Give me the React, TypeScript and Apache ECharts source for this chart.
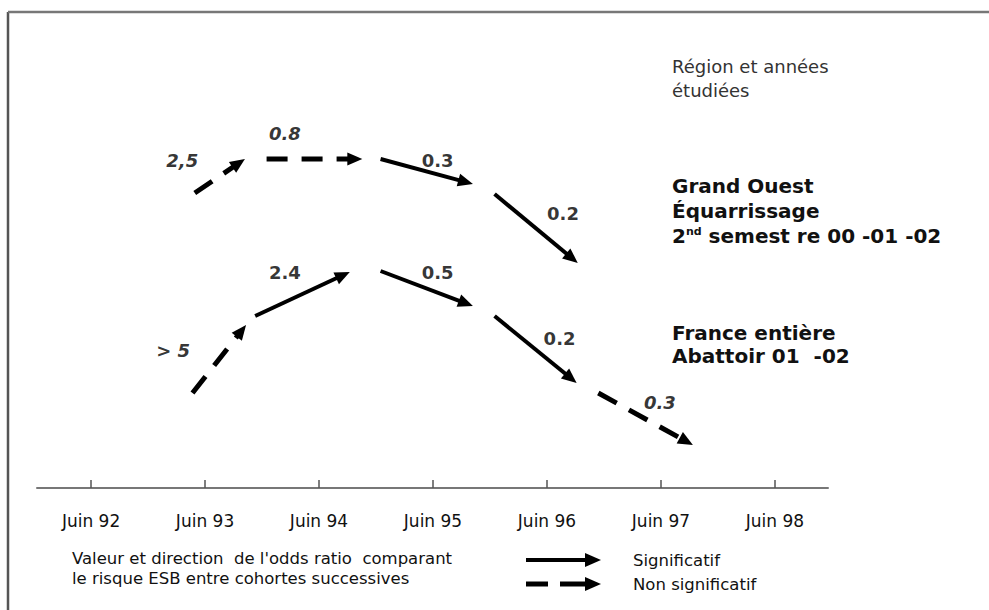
import React, { useEffect, useRef } from "react";
import * as echarts from "echarts";

// Axis: "Juin" of each year
const yearTicks = [1992, 1993, 1994, 1995, 1996, 1997, 1998];
const tickLabels = ["Juin 92", "Juin 93", "Juin 94", "Juin 95", "Juin 96", "Juin 97", "Juin 98"];

// Arrows: [startYear, startLevel, endYear, endLevel]; significance 1 = solid, 0 = dashed
const grandOuestSegments = [
  [1992.91, 73.75, 1993.35, 82.25],
  [1993.54, 82.25, 1994.38, 82.25],
  [1994.54, 82.25, 1995.35, 76.0],
  [1995.54, 73.5, 1996.27, 56.25],
];
const grandOuestSignificant = [0, 0, 1, 1];
const grandOuestLabels = ["2,5", "0.8", "0.3", "0.2"];
const grandOuestLabelPos = [
  [1992.8, 82.0],
  [1993.7, 88.75],
  [1995.04, 82.0],
  [1996.14, 68.75],
];

const franceSegments = [
  [1992.89, 23.75, 1993.36, 40.75],
  [1993.44, 43.0, 1994.27, 54.0],
  [1994.54, 54.25, 1995.35, 45.5],
  [1995.54, 43.0, 1996.26, 26.25],
  [1996.45, 23.75, 1997.28, 10.75],
];
const franceSignificant = [0, 1, 1, 1, 0];
const franceLabels = ["> 5", "2.4", "0.5", "0.2", "0.3"];
const franceLabelPos = [
  [1992.72, 34.5],
  [1993.7, 54.0],
  [1995.04, 54.0],
  [1996.11, 37.5],
  [1996.99, 21.5],
];

const FONT = "DejaVu Sans";

function arrowRender(params: any, api: any) {
  const p0 = api.coord([api.value(0), api.value(1)]);
  const p1 = api.coord([api.value(2), api.value(3)]);
  const sig = api.value(4) === 1;
  const dx = p1[0] - p0[0];
  const dy = p1[1] - p0[1];
  const len = Math.hypot(dx, dy) || 1;
  const ux = dx / len;
  const uy = dy / len;
  const L = 15;
  const W = 6.5;
  const bx = p1[0] - ux * L;
  const by = p1[1] - uy * L;
  return {
    type: "group",
    children: [
      {
        type: "line",
        shape: { x1: p0[0], y1: p0[1], x2: p1[0] - ux * L * 0.6, y2: p1[1] - uy * L * 0.6 },
        style: { stroke: "#000", lineWidth: sig ? 4 : 5, lineDash: sig ? null : [21, 14] },
      },
      {
        type: "polygon",
        shape: {
          points: [
            [p1[0], p1[1]],
            [bx - uy * W, by + ux * W],
            [bx + uy * W, by - ux * W],
          ],
        },
        style: { fill: "#000" },
      },
    ],
  };
}

function segData(segs: number[][], sig: number[]) {
  return segs.map((s, i) => [s[0], s[1], s[2], s[3], sig[i]]);
}

function labelData(labels: string[], pos: number[][], sig: number[]) {
  return labels.map((t, i) => ({
    name: t,
    value: pos[i],
    label: { fontStyle: sig[i] ? "normal" : "italic" },
  }));
}

export default function App() {
  const ref = useRef<HTMLDivElement>(null);
  useEffect(() => {
    if (!ref.current) return;
    const chart = echarts.init(ref.current, undefined, { renderer: "svg" });
    const labelStyle = {
      show: true,
      position: "inside",
      formatter: "{b}",
      fontFamily: FONT,
      fontWeight: "bold",
      fontSize: 18,
      color: "#000",
      textBorderWidth: 0,
      textBorderColor: "transparent",
    };
    chart.setOption({
      animation: false,
      backgroundColor: "#fff",
      grid: { left: 37, right: 161, top: 88, bottom: 122 },
      xAxis: {
        type: "value",
        min: 1991.526,
        max: 1998.465,
        splitLine: { show: false },
        axisLine: { show: true, lineStyle: { color: "#777", width: 2 } },
        axisTick: {
          show: true,
          inside: true,
          length: 8,
          customValues: yearTicks,
          lineStyle: { color: "#555", width: 1.5 },
        },
        axisLabel: {
          customValues: yearTicks,
          formatter: (v: number) => tickLabels[yearTicks.indexOf(Math.round(v))] ?? "",
          margin: 24,
          fontFamily: FONT,
          fontSize: 17,
          color: "#111",
        },
      },
      yAxis: { type: "value", min: 0, max: 100, show: false },
      series: [
        {
          name: "Grand Ouest Équarrissage",
          type: "custom",
          renderItem: arrowRender,
          encode: { x: [0, 2], y: [1, 3] },
          data: segData(grandOuestSegments, grandOuestSignificant),
          clip: false,
        },
        {
          name: "France entière Abattoir",
          type: "custom",
          renderItem: arrowRender,
          encode: { x: [0, 2], y: [1, 3] },
          data: segData(franceSegments, franceSignificant),
          clip: false,
        },
        {
          name: "Grand Ouest labels",
          type: "scatter",
          symbolSize: 0,
          itemStyle: { color: "#000" },
          label: labelStyle,
          data: labelData(grandOuestLabels, grandOuestLabelPos, grandOuestSignificant),
        },
        {
          name: "France labels",
          type: "scatter",
          symbolSize: 0,
          itemStyle: { color: "#000" },
          label: labelStyle,
          data: labelData(franceLabels, franceLabelPos, franceSignificant),
        },
      ],
      graphic: [
        // frame
        { type: "line", shape: { x1: 8, y1: 12, x2: 8, y2: 610 }, style: { stroke: "#555", lineWidth: 2.5 } },
        { type: "line", shape: { x1: 8, y1: 12, x2: 989, y2: 12 }, style: { stroke: "#777", lineWidth: 2.5 } },
        // right annotations
        {
          type: "text", x: 672, y: 66,
          style: { text: "Région et années", fontFamily: FONT, fontSize: 18, fill: "#333", textVerticalAlign: "middle" },
        },
        {
          type: "text", x: 672, y: 90,
          style: { text: "étudiées", fontFamily: FONT, fontSize: 18, fill: "#333", textVerticalAlign: "middle" },
        },
        {
          type: "text", x: 672, y: 186,
          style: { text: "Grand Ouest", fontFamily: FONT, fontSize: 20, fontWeight: "bold", fill: "#111", textVerticalAlign: "middle" },
        },
        {
          type: "text", x: 672, y: 211,
          style: { text: "Équarrissage", fontFamily: FONT, fontSize: 20, fontWeight: "bold", fill: "#111", textVerticalAlign: "middle" },
        },
        {
          type: "text", x: 672, y: 236,
          style: {
            text: "2{sup|nd} semest re 00 -01 -02",
            fontFamily: FONT, fontSize: 20, fontWeight: "bold", fill: "#111", textVerticalAlign: "middle",
            rich: { sup: { fontFamily: FONT, fontSize: 11, fontWeight: "bold", fill: "#111", verticalAlign: "top", padding: [0, 0, 10, 0] } },
          },
        },
        {
          type: "text", x: 672, y: 333,
          style: { text: "France entière", fontFamily: FONT, fontSize: 20, fontWeight: "bold", fill: "#111", textVerticalAlign: "middle" },
        },
        {
          type: "text", x: 672, y: 356,
          style: { text: "Abattoir 01  -02", fontFamily: FONT, fontSize: 20, fontWeight: "bold", fill: "#111", textVerticalAlign: "middle" },
        },
        // legend texts
        {
          type: "text", x: 72, y: 558,
          style: { text: "Valeur et direction  de l'odds ratio  comparant", fontFamily: FONT, fontSize: 16.5, fill: "#111", textVerticalAlign: "middle" },
        },
        {
          type: "text", x: 72, y: 578,
          style: { text: "le risque ESB entre cohortes successives", fontFamily: FONT, fontSize: 16.5, fill: "#111", textVerticalAlign: "middle" },
        },
        // legend arrows
        { type: "line", shape: { x1: 526, y1: 560, x2: 590, y2: 560 }, style: { stroke: "#000", lineWidth: 4 } },
        { type: "polygon", shape: { points: [[601, 560], [585, 553], [585, 567]] }, style: { fill: "#000" } },
        { type: "line", shape: { x1: 526, y1: 584, x2: 548, y2: 584 }, style: { stroke: "#000", lineWidth: 5 } },
        { type: "line", shape: { x1: 560, y1: 584, x2: 590, y2: 584 }, style: { stroke: "#000", lineWidth: 5 } },
        { type: "polygon", shape: { points: [[601, 584], [585, 577], [585, 591]] }, style: { fill: "#000" } },
        {
          type: "text", x: 633, y: 560,
          style: { text: "Significatif", fontFamily: FONT, fontSize: 16.5, fill: "#111", textVerticalAlign: "middle" },
        },
        {
          type: "text", x: 633, y: 584,
          style: { text: "Non significatif", fontFamily: FONT, fontSize: 16.5, fill: "#111", textVerticalAlign: "middle" },
        },
      ],
    });
    return () => chart.dispose();
  }, []);
  return (
    <div
      ref={ref}
      style={{ position: "fixed", left: 0, top: 0, width: 989, height: 610, background: "#fff" }}
    />
  );
}
